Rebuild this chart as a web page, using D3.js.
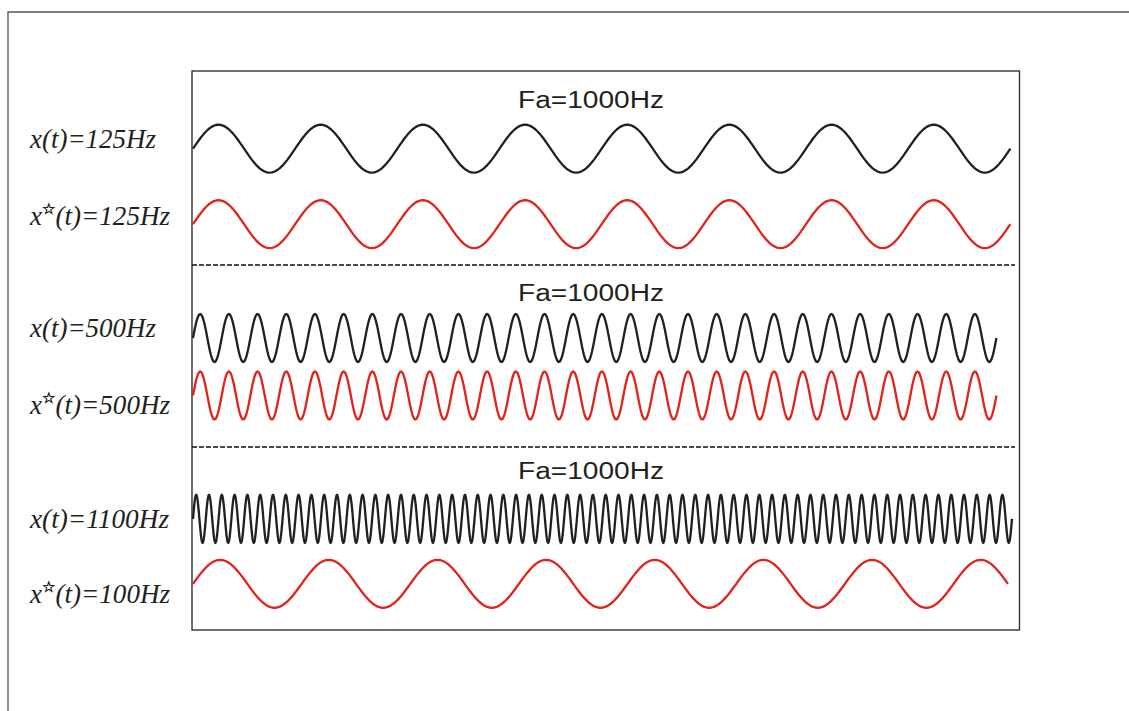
<!DOCTYPE html>
<html>
<head>
<meta charset="utf-8">
<script src="https://cdn.jsdelivr.net/npm/d3@7"></script>
<style>
  html, body { margin: 0; padding: 0; background: #fff; }
  svg { display: block; }
</style>
</head>
<body>
<svg id="chart" width="1129" height="711"></svg>
<script>
// ---- data ----
const panelTitles = ["Fa=1000Hz", "Fa=1000Hz", "Fa=1000Hz"];
const signalNames = ["x(t)", "x*(t)", "x(t)", "x*(t)", "x(t)", "x*(t)"];
const signalFreqs = ["125Hz", "125Hz", "500Hz", "500Hz", "1100Hz", "100Hz"];
const isSampled = [false, true, false, true, false, true];
const cyclesShown = [8, 8, 28, 28, 64, 7.5];
const durationShown = [99.8, 99.8, 98.1, 98.1, 100, 99.5]; // % of time axis

// ---- layout ----
const W = 1129, H = 711;
const svg = d3.select("#chart");
const plot = { x0: 192, y0: 71, x1: 1019.5, y1: 630 };
const rowCenters = [148.7, 224.2, 338, 395.5, 518.8, 583.8];
const labelBaselines = [148, 225, 337, 414, 528, 603];
const labelWidths = [126, 140, 126, 140, 139, 140];
const titleBaselines = [108, 301, 479];
const dividerYs = [265, 447];
const amp = 24;

const x = d3.scaleLinear().domain([0, 100]).range([193, 1012]);

// outer frame (top + left)
svg.append("path")
  .attr("d", `M8,${H} L8,12 L${W},12`)
  .attr("fill", "none").attr("stroke", "#555").attr("stroke-width", 1.3);

// inner box
svg.append("rect")
  .attr("x", plot.x0).attr("y", plot.y0)
  .attr("width", plot.x1 - plot.x0).attr("height", plot.y1 - plot.y0)
  .attr("fill", "none").attr("stroke", "#333").attr("stroke-width", 1.4);

// dashed dividers
dividerYs.forEach(y => {
  svg.append("line")
    .attr("x1", plot.x0).attr("x2", 1015).attr("y1", y).attr("y2", y)
    .attr("stroke", "#111").attr("stroke-width", 1.3)
    .attr("stroke-dasharray", "5,2");
});

// titles
panelTitles.forEach((t, i) => {
  svg.append("text")
    .attr("x", 518).attr("y", titleBaselines[i])
    .attr("textLength", 146).attr("lengthAdjust", "spacingAndGlyphs")
    .attr("font-family", "Liberation Sans, Arial, sans-serif")
    .attr("font-size", 23).attr("fill", "#231f20")
    .text(t);
});

// waves
const line = d3.line().x(d => d[0]).y(d => d[1]);
cyclesShown.forEach((cyc, i) => {
  const y = d3.scaleLinear().domain([-1, 1]).range([rowCenters[i] + amp, rowCenters[i] - amp]);
  const n = Math.max(200, Math.round(cyc * 40));
  const T = durationShown[i];
  const pts = d3.range(n + 1).map(k => {
    const t = T * k / n;
    return [x(t), y(Math.sin(2 * Math.PI * cyc * k / n))];
  });
  svg.append("path")
    .attr("d", line(pts))
    .attr("fill", "none")
    .attr("stroke", isSampled[i] ? "#e2231a" : "#231f20")
    .attr("stroke-width", 2.3)
    .attr("stroke-linejoin", "round");
});

// labels
signalNames.forEach((nm, i) => {
  const txt = svg.append("text")
    .attr("x", 30).attr("y", labelBaselines[i])
    .attr("font-family", "Liberation Serif, Times New Roman, serif")
    .attr("font-style", "italic")
    .attr("font-size", 27).attr("fill", "#231f20")
    .attr("textLength", labelWidths[i]).attr("lengthAdjust", "spacingAndGlyphs");
  if (nm.includes("*")) {
    txt.append("tspan").text("x");
    txt.append("tspan").attr("dy", -11).attr("font-size", 15)
      .attr("font-style", "normal").attr("font-family", "DejaVu Sans")
      .attr("stroke", "#231f20").attr("stroke-width", 0.5).text("\u2606");
    txt.append("tspan").attr("dy", 11).text("(t)=" + signalFreqs[i]);
  } else {
    txt.append("tspan").text(nm + "=" + signalFreqs[i]);
  }
});
</script>
</body>
</html>
